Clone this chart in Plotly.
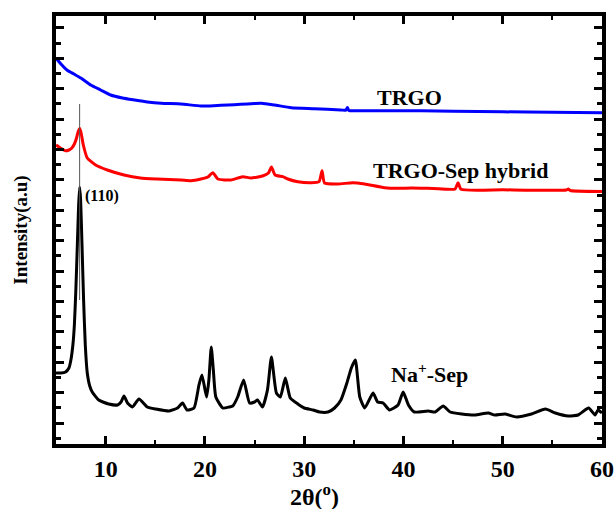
import plotly.graph_objects as go

# ---- data (2θ in degrees, intensity in arbitrary units) ----
two_theta_trgo = [5.0, 5.5, 6.1, 6.8, 7.5, 8.5, 9.5, 10.5, 11.7, 12.9, 14.2, 15.6, 17.6, 19.6,
                  20.9, 22.3, 23.6, 25.0, 25.7, 27.0, 28.7, 31.0, 33.7, 34.2, 34.35, 34.5, 35.5,
                  37.8, 41.8, 45.0, 50.0, 55.0, 60.0]
intensity_trgo = [385, 379, 373, 369, 365, 358, 353, 348, 345, 343, 341, 339.7, 339, 337,
                  337.3, 338, 338.7, 339.5, 339.7, 338, 335.3, 334.3, 333, 332.8, 335.5, 332.5, 332.3,
                  332.3, 332.2, 331.8, 331.2, 330.7, 330.3]

two_theta_hybrid = [5.0, 5.45, 5.96, 6.3, 6.6, 6.85, 7.07, 7.25, 7.4, 7.55, 7.75, 8.15, 8.99,
                    10.17, 11.85, 13.5, 15.2, 17.6, 18.6, 19.6, 20.3, 20.8, 21.3, 22.6, 23.8,
                    24.65, 25.8, 26.4, 26.7, 27.07, 27.85, 28.35, 29.36, 30.7, 31.5, 31.8, 32.05,
                    33.4, 34.9, 36.1, 38.1, 39.46, 40.8, 43.0, 45.2, 45.5, 45.8, 50.0, 56.4,
                    56.6, 56.8, 60.0]
intensity_hybrid = [298, 295, 292.3, 293, 295, 299, 305, 312, 314.5, 309, 298, 285, 278,
                    273, 268, 265, 264, 263, 262.3, 264, 266, 270.3, 264, 263, 266.3,
                    265, 267, 270, 276, 268, 266.3, 264, 261.3, 260.3, 261.3, 272.3, 260,
                    259, 260.3, 259, 255.3, 254.7, 255, 254.5, 254, 260.3, 253.7, 253.2, 253,
                    254, 252.5, 251.5]

two_theta_nasep = [5.0, 5.5, 5.96, 6.3, 6.5, 6.7, 6.85, 7.0, 7.15, 7.28, 7.38, 7.48, 7.62, 7.78,
                   7.95, 8.15, 8.4, 8.65, 9.3, 10.3, 11.2, 11.55, 11.85, 12.2, 12.7, 13.36, 14.2,
                   15.05, 16.4, 17.24, 17.75, 18.2, 18.9, 19.4, 19.7, 20.17, 20.4, 20.64, 20.85,
                   21.1, 21.8, 22.45, 22.8, 23.3, 23.9, 24.5, 25.0, 25.3, 25.8, 26.3, 26.7, 27.2,
                   27.6, 28.1, 28.6, 29.36, 30.0, 30.9, 31.55, 32.4, 33.06, 33.7, 34.3, 34.75,
                   35.15, 35.6, 36.1, 36.94, 37.4, 37.95, 38.6, 39.46, 39.97, 40.5, 41.1, 42.5,
                   43.2, 44.0, 44.7, 45.86, 47.2, 48.55, 49.2, 50.2, 51.4, 52.9, 54.3, 55.3,
                   56.6, 57.6, 58.65, 59.3, 59.6, 60.0]
intensity_nasep = [70, 70, 71, 75, 83, 98, 118, 153, 198, 238, 256, 243, 198, 143,
                   98, 70, 57, 51, 43, 39, 38, 41, 47, 40, 36, 44, 36,
                   34, 32, 35, 40, 33, 35, 58, 68, 46, 63, 96, 73,
                   46, 35, 36, 37, 46, 63, 40, 41, 43, 36, 53, 86, 50,
                   46, 65, 45, 39, 35, 33, 31, 31, 35, 43, 60, 75,
                   83, 46, 35, 50, 41, 40, 33, 38, 51, 38, 31, 32,
                   31, 37, 31, 29, 28, 30, 28, 29, 26, 29, 34, 30,
                   27, 28, 35, 28, 33, 30]

x_ticks = [10, 20, 30, 40, 50, 60]
peak_110 = 7.38
series_labels = ["TRGO", "TRGO-Sep hybrid", "Na<sup>+</sup>-Sep"]

FONT = "Liberation Serif, Times New Roman, serif"

fig = go.Figure()
line_style = dict(width=3, shape="spline", smoothing=0.5)
fig.add_trace(go.Scatter(x=two_theta_trgo, y=intensity_trgo, mode="lines",
                         line=dict(color="#0000ff", **line_style), showlegend=False))
fig.add_trace(go.Scatter(x=two_theta_hybrid, y=intensity_hybrid, mode="lines",
                         line=dict(color="#ff0000", **line_style), showlegend=False))
fig.add_trace(go.Scatter(x=two_theta_nasep, y=intensity_nasep, mode="lines",
                         line=dict(color="#000000", **line_style), showlegend=False))

# (110) reference line
fig.add_shape(type="line", xref="x", yref="y", x0=peak_110, x1=peak_110, y0=143, y1=339,
              line=dict(color="#555555", width=1))

ann_font = dict(family=FONT, size=22, color="black", weight="bold")
fig.add_annotation(x=40.6, y=346, text=series_labels[0], showarrow=False, font=ann_font)
fig.add_annotation(x=45.75, y=273, text=series_labels[1], showarrow=False, font=ann_font)
fig.add_annotation(x=42.6, y=70, text=series_labels[2], showarrow=False, font=ann_font)
fig.add_annotation(x=9.6, y=247, text="(110)", showarrow=False,
                   font=dict(family=FONT, size=16, color="black", weight="bold"))
# x-axis title (placed slightly left of centre as in the original)
fig.add_annotation(x=31.0, xref="x", y=-0.119, yref="paper", yanchor="middle",
                   text="2θ(<sup>o</sup>)", showarrow=False,
                   font=dict(family=FONT, size=24, color="black", weight="bold"))

fig.update_layout(
    width=614, height=509,
    margin=dict(l=56, r=12, t=16, b=65),
    paper_bgcolor="white", plot_bgcolor="white",
    font=dict(family=FONT, color="black"),
)
fig.update_xaxes(
    range=[5, 60], tickvals=x_ticks, ticks="inside", ticklen=8, tickwidth=3, tickcolor="black",
    showline=True, linewidth=4, linecolor="black", mirror="allticks",
    showgrid=False, zeroline=False, automargin=False,
    minor=dict(dtick=5, tick0=0, ticks="inside", ticklen=4, tickwidth=2, tickcolor="black", showgrid=False),
    tickfont=dict(family=FONT, size=24, color="black", weight="bold"),
)
fig.update_yaxes(
    range=[-1, 427], showticklabels=False, tick0=20, dtick=30.4,
    ticks="inside", ticklen=8, tickwidth=3, tickcolor="black",
    showline=True, linewidth=4, linecolor="black", mirror="allticks",
    showgrid=False, zeroline=False, automargin=False,
    minor=dict(dtick=15.2, tick0=20, ticks="inside", ticklen=5, tickwidth=3, tickcolor="black", showgrid=False),
    title=dict(text="Intensity(a.u)", font=dict(family=FONT, size=19, color="black", weight="bold"),
               standoff=20),
)

fig.write_html("out.html", config={"displayModeBar": False},
               post_script="document.body.style.margin='0';document.body.style.overflow='hidden';")
